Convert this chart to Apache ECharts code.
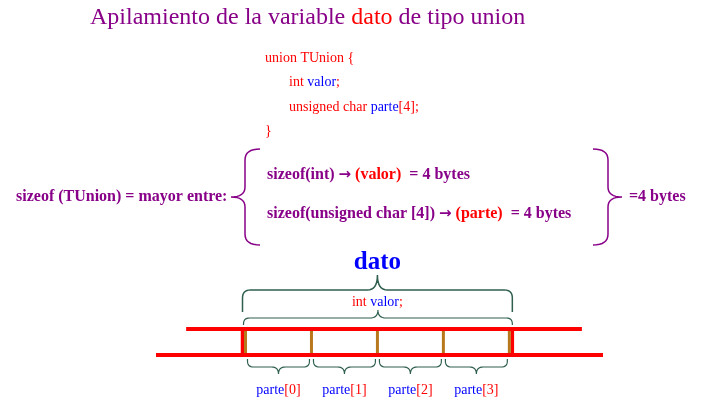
<!DOCTYPE html>
<html>
<head>
<meta charset="utf-8">
<title>Apilamiento de la variable dato de tipo union</title>
<script src="https://cdn.jsdelivr.net/npm/echarts@6/dist/echarts.min.js"></script>
<style>
    html, body { margin: 0; padding: 0; background: #ffffff; }
    #chart { width: 723px; height: 403px; }
</style>
</head>
<body>
<div id="chart"></div>
<script>
// datos del diagrama
var byteLabels = ['parte[0]', 'parte[1]', 'parte[2]', 'parte[3]'];
var byteEdges = [0, 1, 2, 3, 4];
var unionBytes = [0, 4];
var topRail = [-0.9, 5.1];
var bottomRail = [-1.357, 5.42];
var codeLines = ['union TUnion {', 'int {b|valor};', 'unsigned char {b|parte}[4];', '}'];
var sizeofLines = ['sizeof(int) {a|\u2192} {r|(valor)}  = 4 bytes', 'sizeof(unsigned char [4]) {a|\u2192} {r|(parte)}  = 4 bytes'];

var PURPLE = '#880088';
var RED = '#ff0000';
var BLUE = '#0000ff';
var BROWN = '#b8781c';
var GREEN = '#2f5f4f';
var SERIF = '"Liberation Serif", "DejaVu Serif", serif';

// curva cuadratica muestreada
function quad(pts, p0, c, p1) {
    for (var i = 1; i <= 8; i++) {
        var t = i / 8, u = 1 - t;
        pts.push([u * u * p0[0] + 2 * u * t * c[0] + t * t * p1[0],
                  u * u * p0[1] + 2 * u * t * c[1] + t * t * p1[1]]);
    }
}

// llave horizontal: extremos en yEnd, lomo en ySpine, punta en yTip
function hBrace(x1, x2, yEnd, ySpine, yTip, r, rt) {
    var xm = (x1 + x2) / 2;
    var s = ySpine > yEnd ? 1 : -1;
    var re = Math.min(r, Math.abs(ySpine - yEnd));
    var pts = [[x1, yEnd], [x1, ySpine - s * re]];
    quad(pts, [x1, ySpine - s * re], [x1, ySpine], [x1 + re, ySpine]);
    pts.push([xm - rt, ySpine]);
    quad(pts, [xm - rt, ySpine], [xm, ySpine], [xm, yTip]);
    quad(pts, [xm, yTip], [xm, ySpine], [xm + rt, ySpine]);
    pts.push([x2 - re, ySpine]);
    quad(pts, [x2 - re, ySpine], [x2, ySpine], [x2, ySpine - s * re]);
    pts.push([x2, yEnd]);
    return pts;
}

// llave vertical
function vBrace(y1, y2, xEnd, xSpine, xTip, r, rt) {
    var ym = (y1 + y2) / 2;
    var pts = [[xEnd, y1]];
    quad(pts, [xEnd, y1], [xSpine, y1], [xSpine, y1 + r]);
    pts.push([xSpine, ym - rt]);
    quad(pts, [xSpine, ym - rt], [xSpine, ym], [xTip, ym]);
    quad(pts, [xTip, ym], [xSpine, ym], [xSpine, ym + rt]);
    pts.push([xSpine, y2 - r]);
    quad(pts, [xSpine, y2 - r], [xSpine, y2], [xEnd, y2]);
    return pts;
}

function textEl(text, x, y, font, fill, rich, align) {
    return {
        type: 'text',
        silent: true,
        style: {
            text: text, x: x, y: y, font: font, fill: fill,
            align: align || 'left', verticalAlign: 'middle', rich: rich || {}
        }
    };
}

function braceEl(points, color, width) {
    return {
        type: 'polyline',
        silent: true,
        shape: { points: points },
        style: { stroke: color, fill: null, lineWidth: width }
    };
}

var chart = echarts.init(document.getElementById('chart'));

var boldFont = 'bold 16px ' + SERIF;
var sizeofRich = {
    r: { fill: RED, font: boldFont },
    a: { fill: PURPLE, font: 'bold 15px "DejaVu Sans"' }
};

var graphics = [
    textEl('Apilamiento de la variable {r|dato} de tipo union', 90, 18, '24px ' + SERIF, PURPLE,
        { r: { fill: RED, font: '24px ' + SERIF } }),
    textEl(codeLines[0], 265, 58, '14px ' + SERIF, RED, {}),
    textEl(codeLines[1], 289, 82, '14px ' + SERIF, RED, { b: { fill: BLUE, font: '14px ' + SERIF } }),
    textEl(codeLines[2], 289, 107, '14px ' + SERIF, RED, { b: { fill: BLUE, font: '14px ' + SERIF } }),
    textEl(codeLines[3], 265, 131, '14px ' + SERIF, RED, {}),
    textEl('sizeof (TUnion) = mayor entre:', 16, 197, boldFont, PURPLE, {}),
    textEl(sizeofLines[0], 267, 175, boldFont, PURPLE, sizeofRich),
    textEl(sizeofLines[1], 267, 214, boldFont, PURPLE, sizeofRich),
    textEl('=4 bytes', 629, 197, boldFont, PURPLE, {}),
    braceEl(vBrace(149, 245, 260, 245, 231, 11, 10), PURPLE, 1.5),
    braceEl(vBrace(149, 245, 593, 608, 622, 11, 10), PURPLE, 1.5)
];

var option = {
    animation: false,
    backgroundColor: '#ffffff',
    grid: { left: 156, right: 120, top: 329, bottom: 48 },
    xAxis: { type: 'value', min: bottomRail[0], max: bottomRail[1], show: false },
    yAxis: { type: 'value', min: 0, max: 1, show: false },
    graphic: graphics,
    series: [
        {
            // la variable dato completa
            type: 'custom',
            z: 2,
            silent: true,
            data: [unionBytes],
            renderItem: function (params, api) {
                var a = api.coord([api.value(0), 1]);
                var b = api.coord([api.value(1), 1]);
                var bot = api.coord([api.value(0), 0])[1];
                var top = a[1];
                var xm = (a[0] + b[0]) / 2;
                var children = [
                    braceEl(hBrace(a[0] - 3, b[0] + 3, top - 17, top - 39, top - 54, 8, 10), GREEN, 1.5),
                    braceEl(hBrace(a[0] - 2, b[0] + 3, top - 4, top - 11, top - 19, 6, 8), GREEN, 1.2),
                    {
                        type: 'text',
                        silent: true,
                        style: {
                            text: 'dato', x: xm, y: top - 66,
                            fontFamily: 'Liberation Serif', fontWeight: 'bold', fontSize: 25,
                            fill: BLUE, align: 'center', verticalAlign: 'middle'
                        }
                    },
                    textEl('{r|int} valor{r|;}', xm, top - 27, '14px ' + SERIF, BLUE,
                        { r: { fill: RED, font: '14px ' + SERIF } }, 'center'),
                    {
                        type: 'line',
                        shape: { x1: a[0] - 3, y1: top, x2: a[0] - 3, y2: bot },
                        style: { stroke: RED, lineWidth: 3.5 }
                    },
                    {
                        type: 'line',
                        shape: { x1: b[0] + 3, y1: top, x2: b[0] + 3, y2: bot },
                        style: { stroke: RED, lineWidth: 3.5 }
                    }
                ];
                byteEdges.forEach(function (e) {
                    var p = api.coord([e, 1]);
                    children.push({
                        type: 'line',
                        shape: { x1: p[0], y1: top, x2: p[0], y2: bot },
                        style: { stroke: BROWN, lineWidth: 3 }
                    });
                });
                return { type: 'group', children: children };
            }
        },
        {
            // cada byte de parte[]
            type: 'custom',
            z: 2,
            silent: true,
            data: byteLabels.map(function (l, i) { return [i, i + 1, l]; }),
            renderItem: function (params, api) {
                var a = api.coord([api.value(0), 0]);
                var b = api.coord([api.value(1), 0]);
                var bot = a[1];
                var label = byteLabels[params.dataIndex];
                var m = label.match(/^(\w+)(\[.*\])$/);
                return {
                    type: 'group',
                    children: [
                        braceEl(hBrace(a[0] + 2, b[0] - 2, bot + 4, bot + 12, bot + 19, 6, 7), GREEN, 1.2),
                        textEl('{b|' + m[1] + '}{r|' + m[2] + '}', (a[0] + b[0]) / 2, bot + 35, '14px ' + SERIF, BLUE,
                            { b: { fill: BLUE, font: '14px ' + SERIF }, r: { fill: RED, font: '14px ' + SERIF } }, 'center')
                    ]
                };
            }
        },
        {
            type: 'line',
            z: 3,
            silent: true,
            showSymbol: false,
            lineStyle: { color: RED, width: 4 },
            data: [[topRail[0], 1], [topRail[1], 1]]
        },
        {
            type: 'line',
            z: 3,
            silent: true,
            showSymbol: false,
            lineStyle: { color: RED, width: 4 },
            data: [[bottomRail[0], 0], [bottomRail[1], 0]]
        }
    ]
};
chart.setOption(option);
</script>
</body>
</html>
